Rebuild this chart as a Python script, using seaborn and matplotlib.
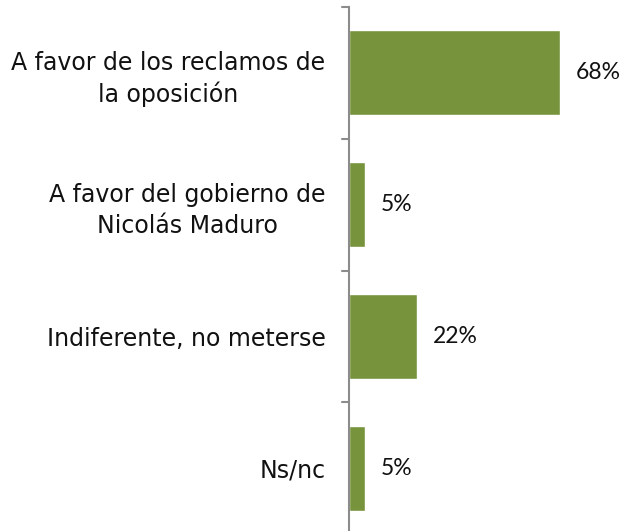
import numpy as np
import pandas as pd
import matplotlib
matplotlib.use("Agg")
import matplotlib.pyplot as plt
import seaborn as sns

# data
categories = ["A favor de los reclamos de\nla oposición",
              "A favor del gobierno de\nNicolás Maduro",
              "Indiferente, no meterse",
              "Ns/nc"]
values = [68, 5, 22, 5]

df = pd.DataFrame({"Respuesta": categories, "Porcentaje": values})

sns.set_style("white")
plt.rcParams["font.family"] = ["DejaVu Sans"]

fig = plt.figure(figsize=(6.2, 5.31), dpi=100)
ax = fig.add_axes([349 / 620, -3 / 531, 248 / 620, 527 / 531])

sns.barplot(data=df, x="Porcentaje", y="Respuesta", color="#77933C",
            width=0.645, saturation=1, ax=ax)

ax.set_xlim(0, 80)
ax.set_ylim(len(categories) - 0.5, -0.5)
ax.set_xlabel("")
ax.set_ylabel("")
ax.set_xticks([])

# category labels
ax.set_yticks(range(len(categories)))
ax.set_yticklabels(categories, fontsize=17, color="#111111", ha="right",
                   multialignment="center", linespacing=1.35)
ax.tick_params(axis="y", length=0, pad=17)

# boundary ticks on the axis
for b in np.arange(-0.5, len(categories), 1):
    ax.plot([-2.4, 0], [b, b], color="#8c8c8c", lw=1.5, clip_on=False)

for side in ["top", "right", "bottom"]:
    ax.spines[side].set_visible(False)
ax.spines["left"].set_color("#8c8c8c")
ax.spines["left"].set_linewidth(1.5)

# value labels (narrower font, like the original)
for i, v in enumerate(values):
    ax.annotate(f"{v}%", (v, i), xytext=(11.5, 0), textcoords="offset points",
                va="center", ha="left", fontsize=16.5, color="#111111",
                family=["Lato", "DejaVu Sans"])

fig.savefig("out.png", dpi=100)
